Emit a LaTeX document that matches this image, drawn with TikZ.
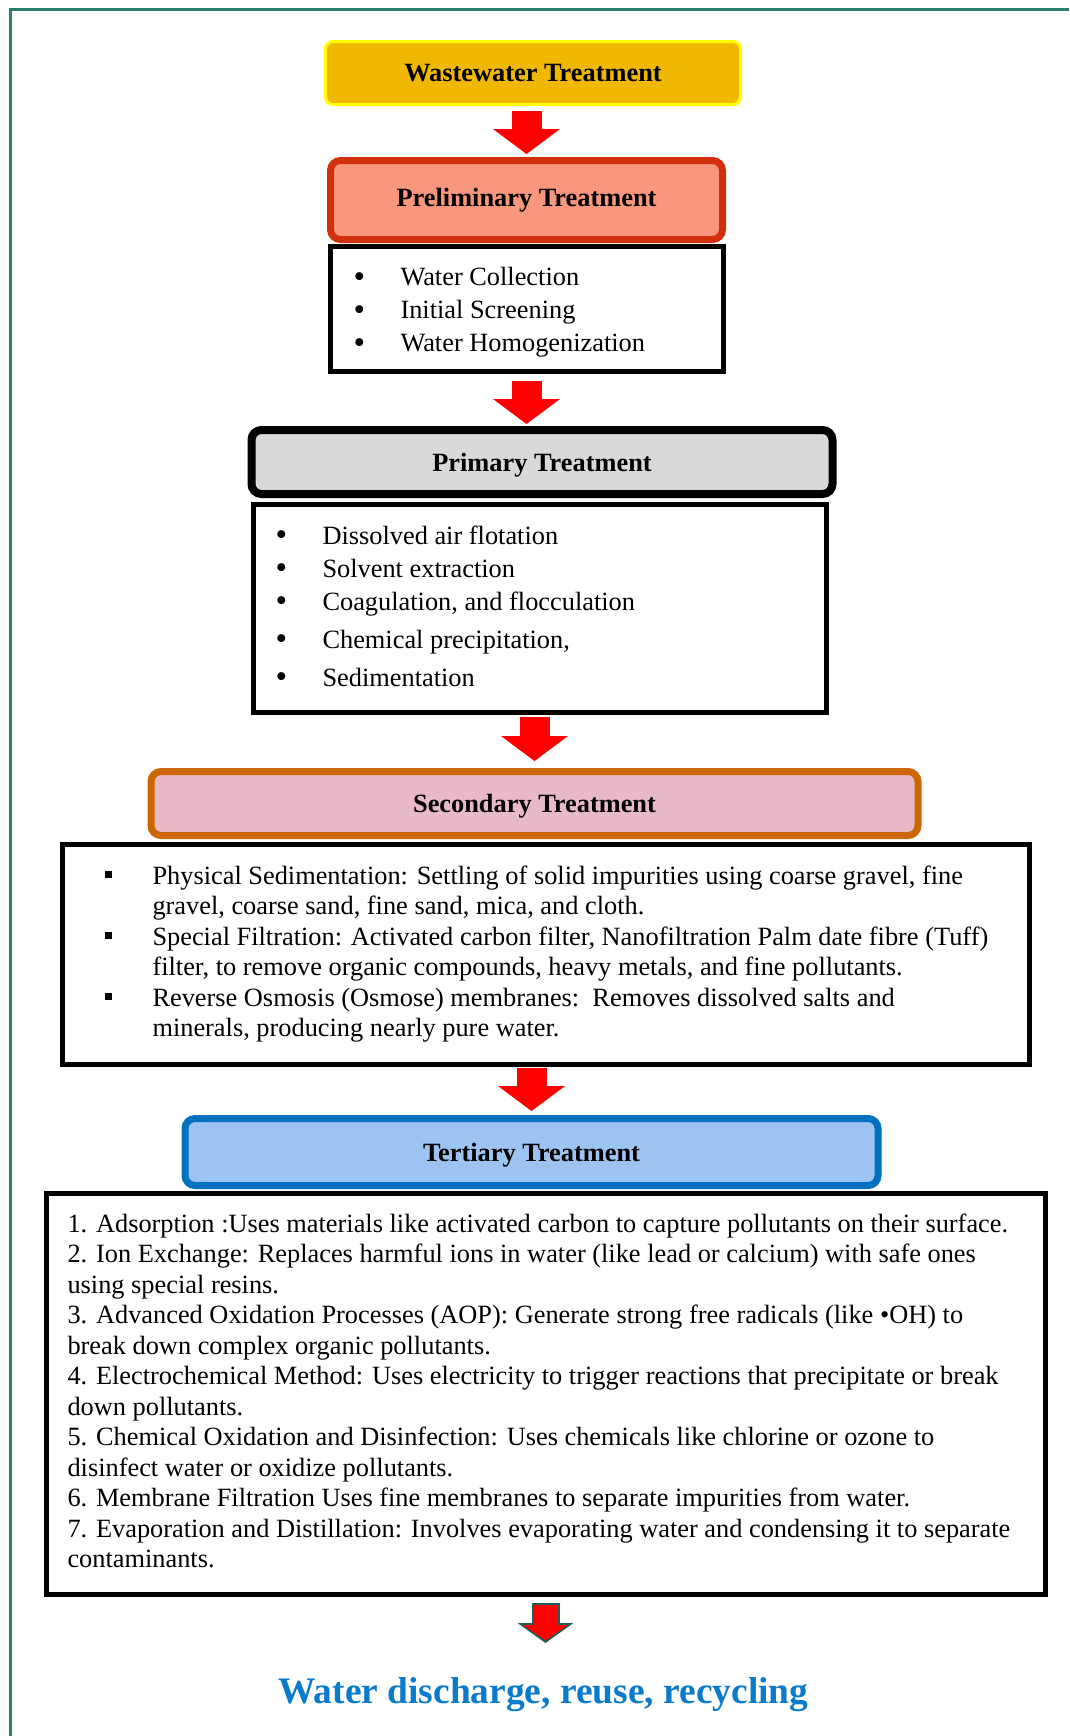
\documentclass[tikz,border=0pt]{standalone}
\usepackage{fontspec}
\setmainfont{Liberation Serif}
\usepackage{xcolor}
\usepackage{graphicx}
\usepackage{tikz}
\usetikzlibrary{arrows.meta, positioning}

\definecolor{wwgold}{HTML}{F0B800}
\definecolor{wwedge}{HTML}{FFFF00}
\definecolor{prelimfill}{HTML}{F9967E}
\definecolor{prelimedge}{HTML}{D0300C}
\definecolor{primfill}{HTML}{D9D9D9}
\definecolor{secfill}{HTML}{E8B9C6}
\definecolor{secedge}{HTML}{CC6600}
\definecolor{terfill}{HTML}{9DC3F2}
\definecolor{teredge}{HTML}{0070C0}
\definecolor{frameteal}{HTML}{2B7D72}
\definecolor{arrowteal}{HTML}{1F5F5A}
\definecolor{reuseblue}{HTML}{0A7ACC}

\newcommand{\dotbul}{\makebox[0.94cm][l]{\raisebox{-0.05em}{\scalebox{1.25}{\textbullet}}}}
\newcommand{\sqbul}{\makebox[0.94cm][l]{\rule[0.13cm]{0.14cm}{0.14cm}}}

\begin{document}
\begin{tikzpicture}[
    node distance=1cm,
    title/.style={
        rectangle,
        draw,
        rounded corners=0.2cm,
        align=center,
        inner sep=0pt,
        font=\fontsize{15}{18}\selectfont\bfseries
    },
    listbox/.style={
        rectangle,
        draw=black,
        line width=0.1cm,
        inner ysep=0pt,
        font=\fontsize{15}{18.8}\selectfont
    },
    flow/.style={
        draw=red,
        line width=0.6cm,
        -{Triangle[width=1.34cm,length=0.5cm,line width=0pt]}
    }
]
\useasboundingbox (0,0) rectangle (21.38,-34.72);

% Frame
\draw [frameteal, line width=0.06cm] (21.38,-0.19) -- (0.21,-0.19) -- (0.21,-34.72);

% Nodes
\node [title, fill=wwgold, draw=wwedge, line width=0.06cm, rounded corners=0.15cm, minimum width=8.30cm, minimum height=1.26cm] (wastewater) at (10.66,-1.46) {Wastewater Treatment};
\node [title, fill=prelimfill, draw=prelimedge, line width=0.14cm, minimum width=7.84cm, minimum height=1.58cm, below=1.02cm of wastewater, xshift=-0.13cm] (prelim) {Preliminary Treatment};
\node [listbox, inner xsep=0.47cm, minimum height=2.50cm, below=0.02cm of prelim] (prelimlist) {\makebox[6.92cm][l]{\begin{tabular}{@{}l@{}l@{}}
\dotbul & Water Collection\\
\dotbul & Initial Screening\\
\dotbul & Water Homogenization\\[-0.13cm]
\end{tabular}}};
\node [title, fill=primfill, draw=black, line width=0.16cm, minimum width=11.62cm, minimum height=1.28cm, text depth=0pt, below=1.04cm of prelimlist, xshift=0.31cm] (primary) {Primary Treatment};
\node [listbox, inner xsep=0.45cm, minimum height=4.16cm, below=0.08cm of primary, xshift=-0.05cm] (primarylist) {\makebox[10.56cm][l]{\begin{tabular}{@{}l@{}l@{}}
\dotbul & Dissolved air flotation\\
\dotbul & Solvent extraction\\
\dotbul & Coagulation, and flocculation\\[0.1cm]
\dotbul & Chemical precipitation,\\[0.1cm]
\dotbul & Sedimentation
\end{tabular}}};
\node [title, fill=secfill, draw=secedge, line width=0.14cm, minimum width=15.34cm, minimum height=1.28cm, text depth=0pt, below=1.06cm of primarylist, xshift=-0.10cm] (secondary) {Secondary Treatment};
\node [listbox, inner xsep=0.85cm, minimum height=4.40cm, below=0.06cm of secondary, xshift=0.23cm, font=\fontsize{15}{17.35}\selectfont] (secondarylist) {\makebox[17.62cm][l]{\begin{tabular}{@{}l@{}l@{}}
\sqbul & Physical Sedimentation: Settling of solid impurities using coarse gravel, fine\\
 & gravel, coarse sand, fine sand, mica, and cloth.\\
\sqbul & Special Filtration: Activated carbon filter, Nanofiltration Palm date fibre (Tuff)\\
 & filter, to remove organic compounds, heavy metals, and fine pollutants.\\
\sqbul & Reverse Osmosis (Osmose) membranes:\ \ Removes dissolved salts and\\
 & minerals, producing nearly pure water.
\end{tabular}}};
\node [title, fill=terfill, draw=teredge, line width=0.14cm, minimum width=13.86cm, minimum height=1.34cm, text depth=0pt, below=0.96cm of secondarylist, xshift=-0.29cm] (tertiary) {Tertiary Treatment};
\node [listbox, inner xsep=0.43cm, minimum height=8.02cm, below=0.04cm of tertiary, xshift=0.28cm, font=\fontsize{15}{17.35}\selectfont] (tertiarylist) {\makebox[19.12cm][l]{\begin{tabular}{@{}l@{}}
1. Adsorption :Uses materials like activated carbon to capture pollutants on their surface.\\
2. Ion Exchange: Replaces harmful ions in water (like lead or calcium) with safe ones\\
using special resins.\\
3. Advanced Oxidation Processes (AOP): Generate strong free radicals (like \textbullet OH) to\\
break down complex organic pollutants.\\
4. Electrochemical Method: Uses electricity to trigger reactions that precipitate or break\\
down pollutants.\\
5. Chemical Oxidation and Disinfection: Uses chemicals like chlorine or ozone to\\
disinfect water or oxidize pollutants.\\
6. Membrane Filtration Uses fine membranes to separate impurities from water.\\
7. Evaporation and Distillation: Involves evaporating water and condensing it to separate\\
contaminants.
\end{tabular}}};
\node [font=\fontsize{21.3}{25}\selectfont\bfseries, text=reuseblue, inner sep=0pt, below=1.6cm of tertiarylist, xshift=-0.04cm] (reuse) {Water discharge, reuse, recycling};

% Arrows
\path [flow, shorten <=0.1cm, shorten >=0.06cm] (prelim.north |- wastewater.south) -- (prelim.north);
\path [flow, shorten <=0.14cm, shorten >=0.04cm] (prelimlist.south) -- (prelimlist.south |- primary.north);
\path [flow, shorten <=0.04cm, shorten >=0.14cm] (secondary.north |- primarylist.south) -- (secondary.north);
\path [flow, shorten <=0.02cm, shorten >=0.08cm] (tertiary.north |- secondarylist.south) -- (tertiary.north);
\path [draw=arrowteal, line width=0.56cm, -{Triangle[width=1.12cm,length=0.4cm,line width=0pt]}, shorten <=0.12cm, shorten >=0.68cm] (tertiarylist.south) -- (tertiarylist.south |- reuse.north);
\path [draw=red, line width=0.48cm, -{Triangle[width=0.9cm,length=0.31cm,line width=0pt]}, shorten <=0.16cm, shorten >=0.73cm] (tertiarylist.south) -- (tertiarylist.south |- reuse.north);

\end{tikzpicture}
\end{document}
